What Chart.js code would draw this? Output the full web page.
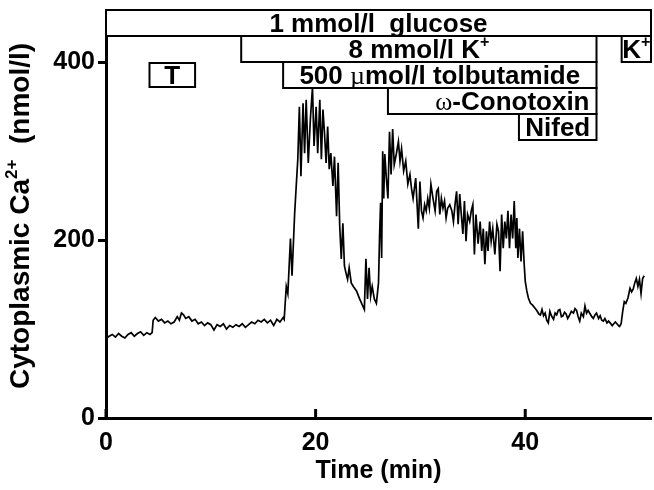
<!DOCTYPE html>
<html>
<head>
<meta charset="utf-8">
<script src="https://cdn.jsdelivr.net/npm/chart.js@4.4.0/dist/chart.umd.min.js"></script>
<style>
  html, body { margin: 0; padding: 0; background: #fff; }
  #chart { display: block; }
</style>
</head>
<body>
<canvas id="chart" width="654" height="490"></canvas>
<script>
// Cytoplasmic Ca2+ trace (time in min, Ca2+ in nmol/l)
const timeMin = [
    0, 0.3, 0.6, 0.9, 1.2, 1.5, 1.8, 2.1, 2.4, 2.7, 3.0, 3.3, 3.6, 3.9, 4.2, 4.4,
    4.5, 4.7, 5.0, 5.3, 5.6, 5.9, 6.2, 6.5, 6.8, 7.0, 7.2, 7.4, 7.6, 7.9, 8.2, 8.5, 8.8, 9.1,
    9.4, 9.7, 10.0, 10.3, 10.6, 10.9, 11.2, 11.5, 11.8, 12.1, 12.4, 12.7, 13.0, 13.3, 13.6,
    13.9, 14.2, 14.5, 14.8, 15.1, 15.4, 15.7, 16.0, 16.3, 16.6, 16.9, 17.0,
    17.2, 17.35, 17.6, 17.75, 18.0, 18.15, 18.3, 18.45, 18.6, 18.8, 18.95, 19.1, 19.3, 19.5,
    19.7, 19.85, 20.05, 20.2, 20.4, 20.55, 20.7, 20.85, 21.0, 21.15, 21.3, 21.45, 21.65, 21.8, 22.0,
    22.15, 22.3, 22.45, 22.6, 22.75, 22.9, 23.05, 23.2, 23.4, 23.6, 23.9, 24.2, 24.5, 24.65,
    24.8, 24.95, 25.1, 25.25, 25.4, 25.6, 25.8, 26.0, 26.1, 26.2, 26.3, 26.4, 26.5, 26.6, 26.75, 26.9,
    27.05, 27.2, 27.35, 27.5, 27.7, 27.9, 28.05, 28.2, 28.4, 28.6, 28.8, 29.0, 29.15, 29.3,
    29.55, 29.8, 29.95, 30.1, 30.25, 30.4, 30.55, 30.7, 30.85, 31.0, 31.2, 31.4, 31.55, 31.7, 31.85, 32.0,
    32.15, 32.3, 32.45, 32.6, 32.8, 33.0, 33.15, 33.3, 33.45, 33.6, 33.75, 33.9, 34.05, 34.2, 34.35, 34.5,
    34.7, 34.85, 35.0, 35.15, 35.3, 35.5, 35.7, 35.85, 36.0, 36.15, 36.3, 36.45, 36.6, 36.75, 36.9, 37.1,
    37.3, 37.45, 37.6, 37.75, 37.9, 38.05, 38.2, 38.35, 38.5, 38.65, 38.8, 38.95, 39.1, 39.2, 39.3, 39.45, 39.6, 39.75, 39.9,
    40.0, 40.15, 40.3, 40.5, 40.7, 40.9, 41.1, 41.3, 41.45, 41.6, 41.75, 41.9, 42.05, 42.2, 42.35, 42.5,
    42.7, 42.85, 43.0, 43.15, 43.3, 43.45, 43.6, 43.75, 43.9, 44.05, 44.2, 44.4, 44.6, 44.75, 44.9, 45.05,
    45.2, 45.35, 45.55, 45.7, 45.85, 46.0, 46.2, 46.35, 46.5, 46.65, 46.8, 47.0, 47.15, 47.3, 47.45, 47.6,
    47.8, 47.95, 48.1, 48.3, 48.45, 48.6, 48.75, 48.9, 49.0, 49.15,
    49.3, 49.45, 49.6, 49.8, 50.0, 50.15, 50.3, 50.45, 50.6, 50.75, 50.9, 51.05, 51.2, 51.35
];
const caNmol = [
    89, 92, 94, 91, 95, 92, 90, 94, 96, 92, 95, 97, 93, 96, 94, 96,
    110, 113, 109, 111, 107, 109, 106, 108, 114, 110, 118, 116, 112, 114, 109, 111, 106, 108,
    104, 107, 105, 99, 105, 103, 106, 100, 104, 102, 105, 103, 106, 102, 105,
    108, 106, 110, 108, 111, 107, 110, 104, 111, 108, 113, 111,
    148, 140, 202, 160, 230, 261, 291, 350, 272, 354, 298, 358, 287, 336,
    372, 306, 350, 298, 358, 291, 347, 320, 287, 328, 280, 298, 261, 294, 227,
    287, 216, 179, 219, 171, 163, 156, 169, 152, 148, 143, 134, 126, 122,
    179, 134, 169, 137, 148, 134, 129, 152, 204, 242, 180, 300, 247, 297, 270, 247,
    322, 274, 325, 285, 297, 311, 289, 303, 278, 289, 263, 274, 258, 247,
    270, 213, 266, 233, 225, 240, 233, 247, 236, 263, 247, 233, 255, 258, 229, 247,
    236, 244, 225, 236, 240, 233, 221, 240, 255, 218, 252, 229, 207, 244, 199, 229,
    221, 233, 240, 184, 229, 196, 221, 188, 213, 173, 210, 188, 221, 199, 213, 184,
    218, 210, 165, 229, 191, 221, 202, 233, 191, 229, 202, 244, 191, 225, 180, 213, 176, 210, 173,
    154, 143, 135, 129, 127, 124, 121, 117, 116, 122, 115, 118, 110, 107, 120, 115,
    111, 118, 116, 121, 122, 114, 115, 119, 117, 112, 115, 120, 118, 123, 121, 114,
    109, 118, 114, 126, 118, 121, 117, 114, 112, 116, 118, 112, 115, 110, 109, 112,
    107, 109, 107, 104, 106, 108, 106, 104, 103, 106,
    120, 131, 129, 135, 146, 142, 145, 152, 157, 148, 156, 140, 157, 160
];

const xTicks = [0, 20, 40];
const yTicks = [0, 200, 400];

// treatment bars on top: label pieces, start / end (min), row from the top
const barLabels = [
    [['1 mmol/l  glucose']],
    [['8 mmol/l K'], ['+', 'sup']],
    [['K'], ['+', 'sup']],
    [['T']],
    [['500 '], ['\u00b5', 'sym'], ['mol/l tolbutamide']],
    [['\u03c9', 'sym'], ['-Conotoxin']],
    [['Nifed']]
];
const barStart = [0, 12.9, 49.2, 4.15, 16.9, 26.9, 39.4];
const barEnd = [52, 46.8, 52, 8.5, 46.8, 46.8, 46.8];
const barRow = [0, 1, 1, 2, 2, 3, 4];

const X_MAX = 52;
const Y_MAX = 459;
const ROW_H = 29.25; // in nmol/l units
const FONT = '"Liberation Sans", Arial, Helvetica, sans-serif';
const SYM_FONT = '"Liberation Serif", "Times New Roman", serif';

function segFont(kind, size) {
    if (kind === 'sym') return size + 'px ' + SYM_FONT;
    if (kind === 'sup') return 'bold ' + Math.round(size * 0.62) + 'px ' + FONT;
    return 'bold ' + size + 'px ' + FONT;
}

function richWidth(ctx, segs, size) {
    let w = 0;
    segs.forEach(s => {
        ctx.font = segFont(s[1], size);
        w += ctx.measureText(s[0]).width;
    });
    return w;
}

// draws text pieces on one baseline, starting at x
function drawRich(ctx, segs, x, y, size) {
    ctx.textAlign = 'left';
    ctx.textBaseline = 'alphabetic';
    segs.forEach(s => {
        ctx.font = segFont(s[1], size);
        const dy = s[1] === 'sup' ? -size * 0.42 : 0;
        ctx.fillText(s[0], x, y + dy);
        x += ctx.measureText(s[0]).width;
    });
}

const barsPlugin = {
    id: 'bars',
    afterDatasetsDraw(chart) {
        const ctx = chart.ctx;
        const xs = chart.scales.x;
        const ys = chart.scales.y;
        const size = 26;
        ctx.save();
        barLabels.forEach((segs, i) => {
            const left = xs.getPixelForValue(barStart[i]);
            const right = xs.getPixelForValue(barEnd[i]);
            let top = ys.getPixelForValue(Y_MAX - barRow[i] * ROW_H);
            let bottom = ys.getPixelForValue(Y_MAX - (barRow[i] + 1) * ROW_H);
            if (i === 3) { top += 1; bottom -= 1; }
            ctx.fillStyle = '#fff';
            ctx.fillRect(left, top, right - left, bottom - top);
            ctx.strokeStyle = '#000';
            ctx.lineWidth = 2;
            ctx.strokeRect(left, top, right - left, bottom - top);

            const w = richWidth(ctx, segs, size);
            let tx = (left + right) / 2 - w / 2;
            if (i === 5) tx = right - 7 - w;
            const ty = (top + bottom) / 2 + size * 0.36;
            ctx.fillStyle = '#000';
            drawRich(ctx, segs, tx, ty, size);
        });
        ctx.restore();
    },
    afterDraw(chart) {
        const ctx = chart.ctx;
        const xs = chart.scales.x;
        ctx.save();
        // inward ticks on the time axis
        ctx.strokeStyle = '#000';
        ctx.lineWidth = 3;
        xs.ticks.forEach(t => {
            const px = xs.getPixelForValue(t.value);
            ctx.beginPath();
            ctx.moveTo(px, xs.top);
            ctx.lineTo(px, xs.top - 9);
            ctx.stroke();
        });
        // y axis title with superscript
        const segs = [['Cytoplasmic Ca'], ['2+', 'sup'], ['  (nmol/l)']];
        const size = 28;
        const w = richWidth(ctx, segs, size);
        ctx.translate(29, 216);
        ctx.rotate(-Math.PI / 2);
        ctx.fillStyle = '#000';
        drawRich(ctx, segs, -w / 2, 0, size);
        ctx.restore();
    }
};

const points = timeMin.map((t, i) => ({ x: t, y: caNmol[i] }));

new Chart(document.getElementById('chart').getContext('2d'), {
    type: 'line',
    data: {
        datasets: [{
            data: points,
            borderColor: '#000',
            borderWidth: 1.7,
            pointRadius: 0,
            tension: 0,
            fill: false
        }]
    },
    options: {
        responsive: false,
        animation: false,
        layout: { padding: { top: 10, right: 3, left: 0, bottom: 0 } },
        plugins: {
            legend: { display: false },
            tooltip: { enabled: false }
        },
        scales: {
            x: {
                type: 'linear',
                min: 0,
                max: X_MAX,
                afterBuildTicks: s => { s.ticks = xTicks.map(v => ({ value: v })); },
                afterFit: s => { s.height = 72; s.paddingLeft = 0; s.paddingRight = 0; },
                grid: { display: false },
                border: { display: true, color: '#000', width: 3 },
                ticks: {
                    color: '#000',
                    padding: 2,
                    maxRotation: 0,
                    font: { family: FONT, size: 25, weight: 'bold' }
                },
                title: {
                    display: true,
                    text: 'Time (min)',
                    color: '#000',
                    padding: { top: 0, bottom: 4 },
                    font: { family: FONT, size: 25, weight: 'bold' }
                }
            },
            y: {
                min: 0,
                max: Y_MAX,
                afterBuildTicks: s => { s.ticks = yTicks.map(v => ({ value: v })); },
                afterFit: s => { s.width = 106; s.paddingTop = 0; s.paddingBottom = 0; },
                grid: {
                    display: true,
                    drawOnChartArea: false,
                    drawTicks: true,
                    tickLength: 8,
                    tickWidth: 3,
                    color: '#000'
                },
                border: { display: true, color: '#000', width: 3 },
                ticks: {
                    color: '#000',
                    padding: 3,
                    font: { family: FONT, size: 25, weight: 'bold' }
                }
            }
        }
    },
    plugins: [barsPlugin]
});
</script>
</body>
</html>
